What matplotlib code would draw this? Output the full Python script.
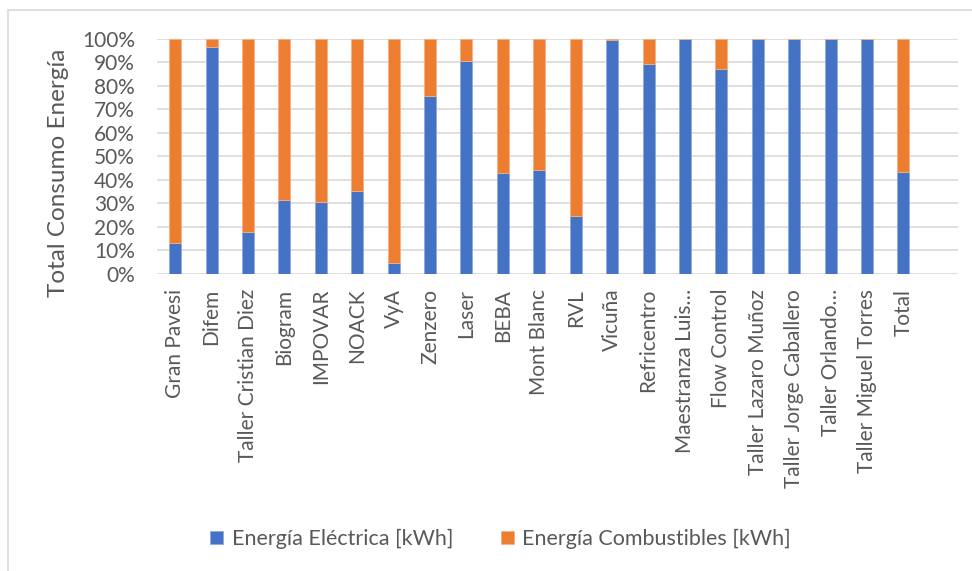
import numpy as np
import matplotlib
matplotlib.use("Agg")
import matplotlib.pyplot as plt
from matplotlib.patches import Rectangle
from matplotlib.ticker import PercentFormatter

BLUE = "#4472C4"
ORANGE = "#ED7D31"
GREY_TEXT = "#595959"
GRID = "#D9D9D9"

categories = ["Gran Pavesi", "Difem", "Taller Cristian Diez", "Biogram", "IMPOVAR",
              "NOACK", "VyA", "Zenzero", "Laser", "BEBA", "Mont Blanc", "RVL",
              "Vicuña", "Refricentro", "Maestranza Luis…", "Flow Control",
              "Taller Lazaro Muñoz", "Taller Jorge Caballero", "Taller Orlando…",
              "Taller Miguel Torres", "Total"]

# share of electric energy (%)
electrica = [13.1, 96.4, 17.8, 31.3, 30.3, 35.2, 4.6, 75.8, 90.5, 42.7, 44.0, 24.6,
             99.4, 89.3, 100.0, 87.3, 100.0, 100.0, 100.0, 100.0, 43.4]
combustibles = [100 - v for v in electrica]

plt.rcParams['font.family'] = ['Lato', 'DejaVu Sans']

fig = plt.figure(figsize=(9.72, 5.71), dpi=100)

# outer chart border (only left/top visible in the crop)
fig.patches.append(Rectangle((8 / 972, -0.1), 1.2, (571 - 10) / 571 + 0.1,
                             transform=fig.transFigure, fill=False,
                             edgecolor=GRID, linewidth=1.2))

ax = fig.add_axes([157 / 972, 1 - 273.5 / 571, 801 / 972, 234.5 / 571])

x = np.arange(len(categories))
w = 0.33
ax.bar(x, electrica, w, color=BLUE, edgecolor="#8FAADC", linewidth=0.6,
       label="Energía Eléctrica [kWh]", zorder=3)
ax.bar(x, combustibles, w, bottom=electrica, color=ORANGE, edgecolor="#F4B183",
       linewidth=0.6, label="Energía Combustibles [kWh]", zorder=3)

# one empty slot after "Total", as in the original chart
ax.set_xlim(-0.5, len(categories) + 0.5)
ax.set_ylim(0, 100)
ax.set_yticks(np.arange(0, 101, 10))
ax.yaxis.set_major_formatter(PercentFormatter(decimals=0))
ax.set_xticks(x)
ax.set_xticklabels(categories, rotation=90)

ax.grid(axis='y', color=GRID, linewidth=1.2, zorder=0)
for s in ax.spines.values():
    s.set_visible(False)
ax.tick_params(axis='both', length=0, colors=GREY_TEXT, labelsize=15)
ax.tick_params(axis='x', pad=11)
ax.tick_params(axis='y', pad=16)

ax.set_ylabel("Total Consumo Energía", fontsize=17.5, color=GREY_TEXT)
ax.yaxis.set_label_coords(-88 / 801, (273.5 - 173) / 234.5)

leg = fig.legend(loc='center', bbox_to_anchor=(0.515, 1 - 539 / 571), ncol=2,
                 frameon=False, fontsize=15.5, handlelength=0.6, handleheight=0.6,
                 columnspacing=2.2, handletextpad=0.4)
for t in leg.get_texts():
    t.set_color(GREY_TEXT)

fig.savefig("out.png", dpi=100)
